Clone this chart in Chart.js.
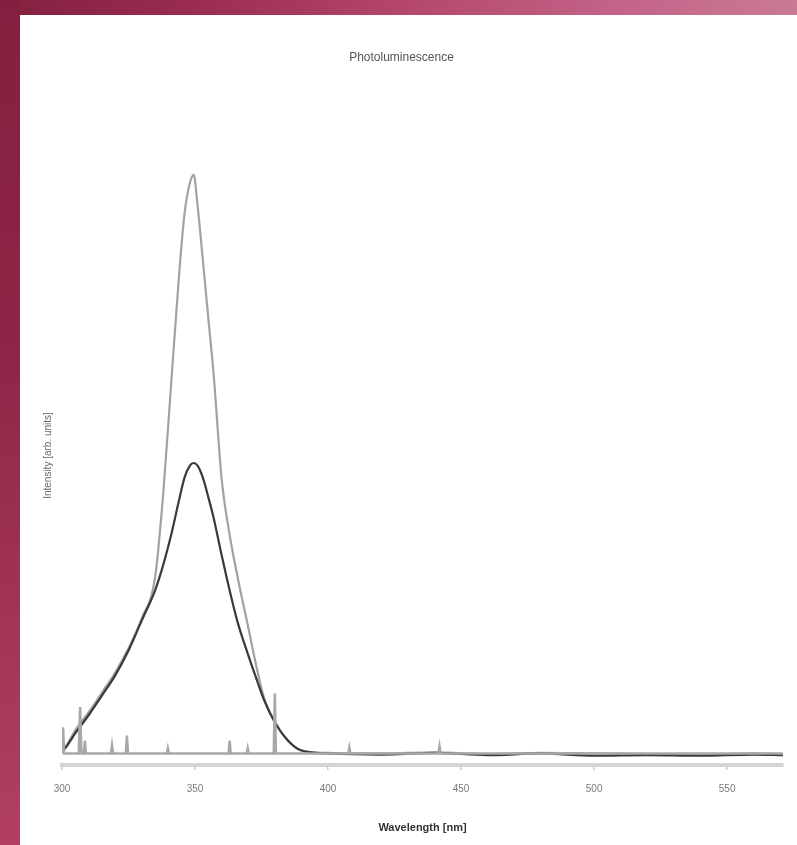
<!DOCTYPE html>
<html>
<head>
<meta charset="utf-8">
<script src="https://cdn.jsdelivr.net/npm/chart.js@4"></script>
<style>
  html, body { margin: 0; padding: 0; }
  body {
    width: 797px; height: 845px; overflow: hidden; position: relative;
    background: linear-gradient(90deg, #84203f 0%, #9a2d50 25%, #b4466b 50%, #c4668a 80%, #c97a94 100%);
  }
  #frame {
    position: absolute; left: 20px; top: 15px; width: 777px; height: 830px; background: #ffffff;
  }
  #leftband {
    position: absolute; left: 0; top: 0; width: 20px; height: 845px;
    background: linear-gradient(180deg, #84203f 0%, #8e2546 40%, #a33556 75%, #b14060 100%);
  }
</style>
</head>
<body>
<div id="leftband"></div>
<div id="frame"><canvas id="c" width="777" height="830"></canvas></div>
<script>
// Wavelength grid (nm)
const wavelengths = [300, 302, 305, 310, 315, 320, 325, 330, 335, 338, 341, 344, 346, 348, 349.5, 351, 353, 355, 357, 360, 363, 366, 370, 373, 376, 380, 385, 390, 400, 420, 440, 460, 480, 500, 520, 540, 560, 571];
// Tall narrow emission (gray)
const seriesGray = [0.002, 0.016, 0.040, 0.071, 0.105, 0.140, 0.182, 0.234, 0.305, 0.446, 0.637, 0.827, 0.931, 0.985, 1.000, 0.945, 0.850, 0.752, 0.655, 0.475, 0.378, 0.305, 0.218, 0.152, 0.095, 0.054, 0.022, 0.005, 0.001, 0.000, 0.002, -0.001, 0.001, 0.000, -0.001, -0.002, 0.000, -0.001];
// Broad emission (dark)
const seriesDark = [0.002, 0.014, 0.035, 0.066, 0.100, 0.135, 0.178, 0.230, 0.282, 0.325, 0.377, 0.438, 0.476, 0.497, 0.502, 0.497, 0.476, 0.443, 0.407, 0.343, 0.282, 0.227, 0.170, 0.130, 0.092, 0.054, 0.022, 0.005, 0.000, -0.002, 0.001, -0.003, 0.000, -0.004, -0.003, -0.004, -0.002, -0.003];
// Background noise spikes (light gray)
const noiseNm = [300, 300.4, 300.8, 306.3, 306.8, 307.3, 308.2, 308.6, 309.0, 318.4, 318.8, 319.2, 324.0, 324.4, 324.8, 339.4, 339.8, 340.2, 362.6, 363, 363.4, 369.4, 369.8, 370.2, 379.6, 380, 380.4, 407.6, 408, 408.4, 441.5, 441.9, 442.3, 571];
const noiseVal = [0, 0.045, 0, 0, 0.080, 0, 0, 0.022, 0, 0, 0.014, 0, 0, 0.031, 0, 0, 0.009, 0, 0, 0.022, 0, 0, 0.009, 0, 0, 0.104, 0, 0, 0.010, 0, 0, 0.012, 0, 0];
// Axis ticks
const xTicks = [300, 350, 400, 450, 500, 550];

const toPts = (xs, ys) => xs.map((x, i) => ({ x: x, y: ys[i] }));

new Chart(document.getElementById('c'), {
  type: 'line',
  data: {
    datasets: [
      { label: 'noise', data: toPts(noiseNm, noiseVal), borderColor: '#a8a8a8', borderWidth: 2.5, pointRadius: 0, tension: 0 },
      { label: 'broad', data: toPts(wavelengths, seriesDark), borderColor: '#3a3a3a', borderWidth: 2.2, pointRadius: 0, cubicInterpolationMode: 'monotone' },
      { label: 'narrow', data: toPts(wavelengths, seriesGray), borderColor: '#a2a2a2', borderWidth: 2.2, pointRadius: 0, cubicInterpolationMode: 'monotone' }
    ]
  },
  options: {
    responsive: false,
    animation: false,
    layout: { padding: { left: 0, right: 14, top: 0, bottom: 0 } },
    plugins: {
      legend: { display: false },
      tooltip: { enabled: false },
      title: {
        display: true,
        text: 'Photoluminescence',
        color: '#555555',
        font: { family: 'Liberation Sans', size: 12, weight: 'normal' },
        padding: { top: 35, bottom: 81.6 }
      }
    },
    scales: {
      x: {
        type: 'linear',
        min: 300,
        max: 571,
        afterBuildTicks: (s) => { s.ticks = xTicks.map(v => ({ value: v })); },
        afterFit: (s) => { s.height = 80; },
        ticks: { color: '#7a7a7a', font: { family: 'Liberation Sans', size: 10 }, padding: 13, maxRotation: 0 },
        grid: { display: true, drawOnChartArea: false, drawTicks: true, tickLength: 5, color: '#c8c8c8', lineWidth: 1.5 },
        border: { display: true, color: '#d4d4d4', width: 4 },
        title: {
          display: true,
          text: 'Wavelength [nm]',
          color: '#333333',
          font: { family: 'Liberation Sans', size: 11, weight: 'bold' },
          padding: { top: 0, bottom: 10.8 }
        }
      },
      y: {
        type: 'linear',
        min: -0.02,
        max: 1.05,
        afterFit: (s) => { s.width = 42; },
        ticks: { display: false },
        grid: { display: false },
        border: { display: false },
        title: {
          display: true,
          text: 'Intensity [arb. units]',
          color: '#666666',
          font: { family: 'Liberation Sans', size: 10 },
          padding: { top: 22, bottom: 0 }
        }
      }
    }
  }
});
</script>
</body>
</html>
